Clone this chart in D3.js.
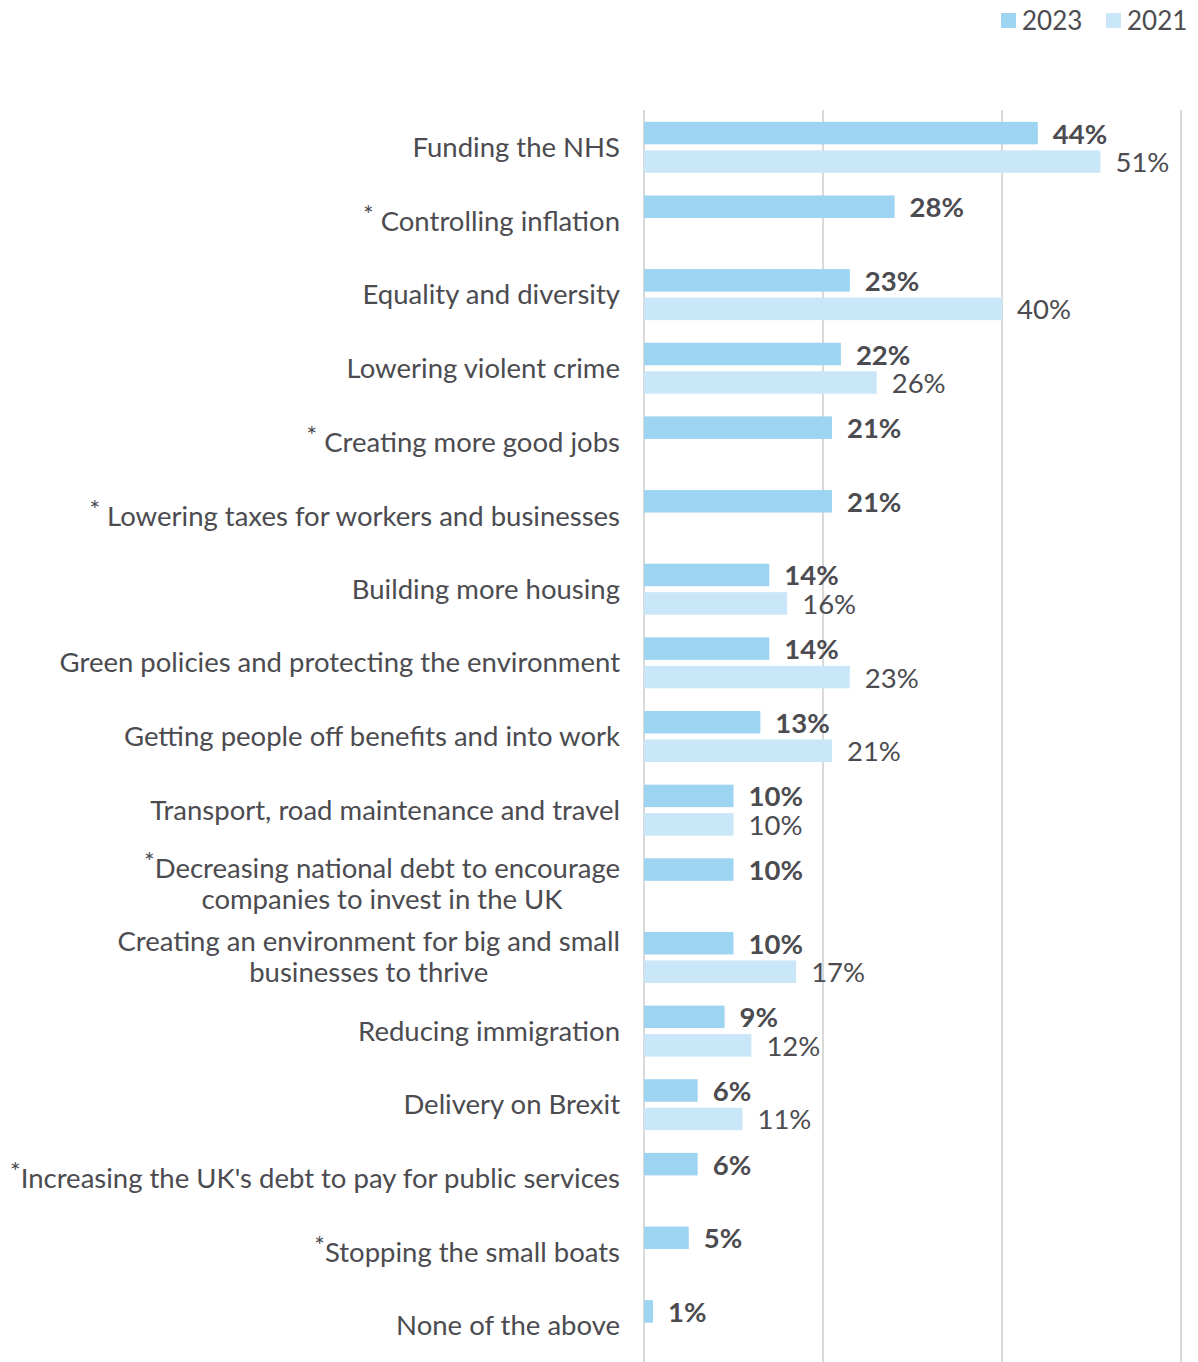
<!DOCTYPE html>
<html>
<head>
<meta charset="utf-8">
<script src="https://cdn.jsdelivr.net/npm/d3@7"></script>
<style>
  html, body { margin: 0; padding: 0; background: #ffffff; }
  svg { display: block; }
  text { font-family: Lato, "Noto Sans", sans-serif; fill: #4b4b50; }
</style>
</head>
<body>
<svg id="chart" width="1198" height="1362"></svg>
<script>
// Survey priorities, share of respondents (%)
const categories = [
  ["Funding the NHS"],
  ["* Controlling inflation"],
  ["Equality and diversity"],
  ["Lowering violent crime"],
  ["* Creating more good jobs"],
  ["* Lowering taxes for workers and businesses"],
  ["Building more housing"],
  ["Green policies and protecting the environment"],
  ["Getting people off benefits and into work"],
  ["Transport, road maintenance and travel"],
  ["*Decreasing national debt to encourage", "companies to invest in the UK"],
  ["Creating an environment for big and small", "businesses to thrive"],
  ["Reducing immigration"],
  ["Delivery on Brexit"],
  ["*Increasing the UK's debt to pay for public services"],
  ["*Stopping the small boats"],
  ["None of the above"]
];
const values2023 = [44, 28, 23, 22, 21, 21, 14, 14, 13, 10, 10, 10, 9, 6, 6, 5, 1];
const values2021 = [51, null, 40, 26, null, null, 16, 23, 21, 10, null, 17, 12, 11, null, null, null];
const seriesNames = ["2023", "2021"];
const gridTicks = [0, 20, 40, 60];

const colors = { "2023": "#9dd4f2", "2021": "#c9e7f8" };

const svg = d3.select("#chart");
const plotLeft = 644, plotRight = 1181, plotTop = 110, plotBottom = 1362;

const x = d3.scaleLinear().domain([0, 60]).range([plotLeft, plotRight]);
const y = d3.scaleBand().domain(d3.range(categories.length)).range([plotTop, plotBottom]).padding(0);
const groupH = 51;
const ySub = d3.scaleBand().domain(seriesNames).range([0, groupH]).paddingInner(0.21);

// Vertical gridlines
svg.append("g").selectAll("line").data(gridTicks).join("line")
  .attr("x1", d => x(d)).attr("x2", d => x(d))
  .attr("y1", plotTop).attr("y2", plotBottom)
  .attr("stroke", "#d9d9d9").attr("stroke-width", 2);

const rows = categories.map((c, i) => ({
  i, lines: c,
  vals: { "2023": values2023[i], "2021": values2021[i] }
}));

const bars = svg.append("g");
rows.forEach(r => {
  const top = y(r.i) + y.bandwidth() / 2 - groupH / 2 + 0.5;
  seriesNames.forEach(s => {
    const v = r.vals[s];
    if (v == null) return;
    const by = top + ySub(s);
    bars.append("rect")
      .attr("x", x(0)).attr("y", by)
      .attr("width", x(v) - x(0)).attr("height", ySub.bandwidth())
      .attr("fill", colors[s]);
    bars.append("text")
      .attr("x", x(v) + 15).attr("y", by + ySub.bandwidth() / 2)
      .attr("dominant-baseline", "central")
      .attr("font-size", 27.5)
      .attr("font-weight", s === "2023" ? 700 : 400)
      .text(v + "%");
  });
});

// Category labels, right-aligned block; multi-line labels centred within the block
const labelRight = 620, lineH = 31;
const labels = svg.append("g");
rows.forEach(r => {
  const cy = y(r.i) + y.bandwidth() / 2 - 0.5;
  const n = r.lines.length;
  const items = r.lines.map((line, k) => {
    const t = labels.append("text")
      .attr("font-size", 27.5)
      .attr("y", cy + (k - (n - 1) / 2) * lineH)
      .attr("dominant-baseline", "central");
    if (line.startsWith("*")) {
      const rest = line.slice(1);
      t.append("tspan").text("*").attr("dy", -6).attr("font-size", 25);
      t.append("tspan").text(rest).attr("dy", 6);
    } else {
      t.text(line);
    }
    return t;
  });
  const widths = items.map(t => t.node().getComputedTextLength());
  const maxW = d3.max(widths);
  const cx = labelRight - maxW / 2;
  items.forEach((t, k) => {
    t.attr("x", cx - widths[k] / 2);
  });
});

// Legend
const legend = svg.append("g");
const legendPos = [{ s: "2023", x: 1001 }, { s: "2021", x: 1106 }];
legendPos.forEach(p => {
  legend.append("rect").attr("x", p.x).attr("y", 13).attr("width", 15).attr("height", 15)
    .attr("fill", colors[p.s]);
  legend.append("text").attr("x", p.x + 21).attr("y", 20)
    .attr("dominant-baseline", "central").attr("font-size", 26).text(p.s);
});
</script>
</body>
</html>
